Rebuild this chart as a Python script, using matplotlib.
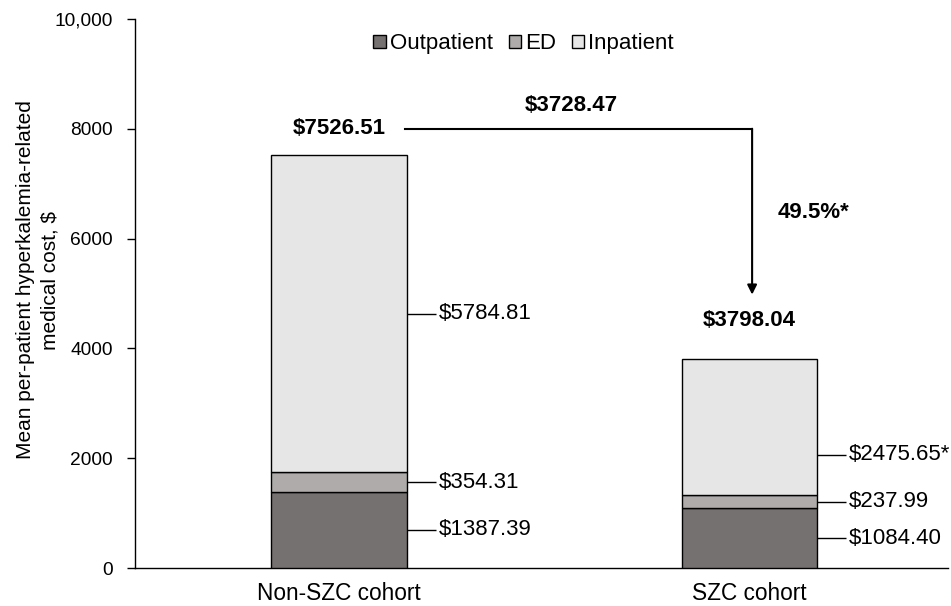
import matplotlib
matplotlib.use("Agg")
import matplotlib.pyplot as plt
from matplotlib.ticker import FuncFormatter

plt.rcParams['font.family'] = ['Liberation Sans', 'DejaVu Sans']

categories = ["Non-SZC cohort", "SZC cohort"]
series_names = ["Outpatient", "ED", "Inpatient"]
outpatient = [1387.39, 1084.40]
ed = [354.31, 237.99]
inpatient = [5784.81, 2475.65]
totals = [7526.51, 3798.04]
seg_labels = [["$1387.39", "$354.31", "$5784.81"],
              ["$1084.40", "$237.99", "$2475.65*"]]
diff_label = "$3728.47"
pct_label = "49.5%*"
yticks = [0, 2000, 4000, 6000, 8000, 10000]

colors = ["#767171", "#AFABAB", "#E7E6E6"]

fig = plt.figure(figsize=(9.51, 6.06), dpi=100)
ax = fig.add_axes([0.142, 0.0627, 0.855, 0.906])

x = list(range(len(categories)))
w = 0.33
bottoms = [0.0] * len(categories)
series = [outpatient, ed, inpatient]
for vals, name, c in zip(series, series_names, colors):
    ax.bar(x, vals, w, bottom=bottoms, color=c, edgecolor="black",
           linewidth=1.0, label=name, zorder=3)
    bottoms = [b + v for b, v in zip(bottoms, vals)]

# segment labels with leader lines
for i in x:
    b = 0.0
    for j, vals in enumerate(series):
        mid = b + vals[i] / 2
        if i == 1 and j == 2:
            mid -= 500
        b += vals[i]
        x0 = i + w / 2
        ax.plot([x0, x0 + 0.072], [mid, mid], color="black", lw=1.0,
                solid_capstyle="butt", zorder=2)
        ax.text(x0 + 0.078, mid, seg_labels[i][j], fontsize=16,
                va="center", ha="left")

# totals
ax.text(0, 8000, f"${totals[0]:.2f}", fontsize=16, fontweight="bold",
        ha="center", va="center")
ax.text(1, 4500, f"${totals[1]:.2f}", fontsize=16, fontweight="bold",
        ha="center", va="center")

# bracket arrow
ax.plot([0.16, 1.007], [8000, 8000], color="black", lw=1.5, zorder=2)
ax.annotate("", xy=(1.007, 4980), xytext=(1.007, 8000),
            arrowprops=dict(arrowstyle="-|>", color="black", lw=1.5,
                            mutation_scale=14, shrinkA=0, shrinkB=0))
ax.text(0.565, 8420, diff_label, fontsize=16, fontweight="bold",
        ha="center", va="center")
ax.text(1.07, 6480, pct_label, fontsize=16, fontweight="bold",
        ha="left", va="center")

ax.set_xlim(-0.4976, 1.485)
ax.set_ylim(0, 10000)
ax.set_yticks(yticks)
ax.yaxis.set_major_formatter(FuncFormatter(
    lambda v, p: f"{int(v):,}" if v >= 10000 else f"{int(v)}"))
ax.set_xticks(x)
ax.set_xticklabels(categories, fontsize=16.3)
ax.tick_params(axis="x", length=0, pad=10)
ax.tick_params(axis="y", labelsize=13.8, length=6, width=1, direction="out", pad=10)
for s in ["top", "right"]:
    ax.spines[s].set_visible(False)
for s in ["left", "bottom"]:
    ax.spines[s].set_linewidth(1.0)

fig.text(38 / 951, 1 - 280 / 606,
         "Mean per-patient hyperkalemia-related\nmedical cost, $",
         fontsize=15, rotation=90, ha="center", va="center",
         multialignment="center", linespacing=1.4)

leg = ax.legend(loc="center", bbox_to_anchor=(0.478, 0.955), ncol=3,
                frameon=False, fontsize=16, handlelength=0.55,
                handleheight=0.55, handletextpad=0.2, columnspacing=0.7)

fig.savefig("out.png", dpi=100)
